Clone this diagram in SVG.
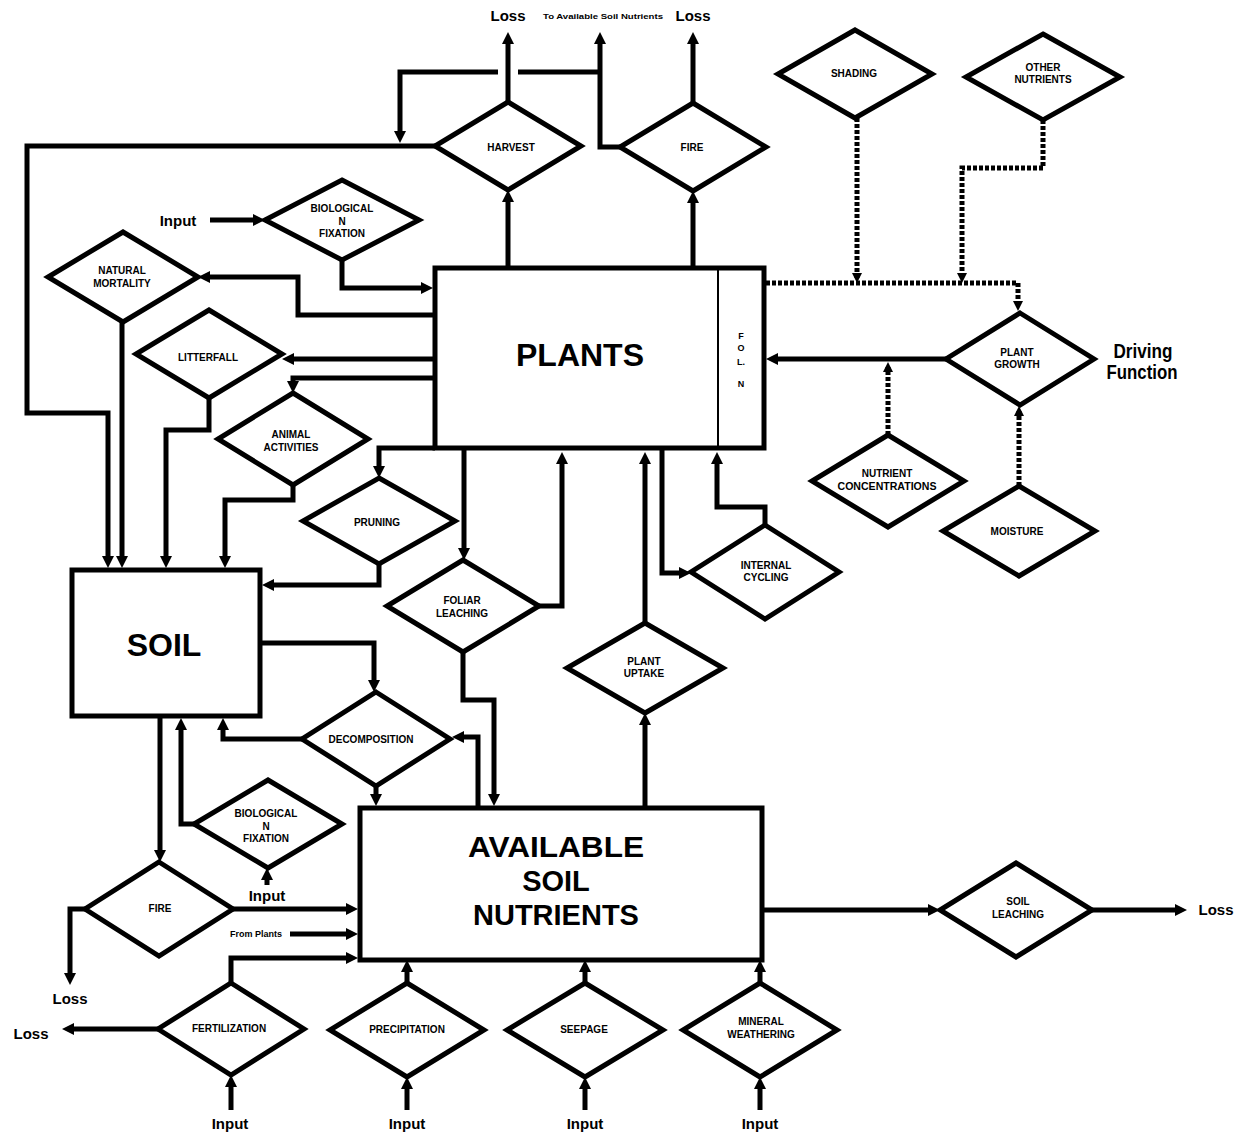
<svg xmlns="http://www.w3.org/2000/svg" width="1236" height="1135" viewBox="0 0 1236 1135">
<style>
.n polygon,.n rect{fill:#fff;stroke:#000;stroke-width:5;stroke-linejoin:miter}
.c path{fill:none;stroke:#000;stroke-width:5;stroke-linejoin:miter;marker-end:url(#a)}
.c path.na{marker-end:none}
.c path.d{stroke-dasharray:4 2;marker-end:url(#b)}
text{font-family:"Liberation Sans",Arial,sans-serif;font-weight:bold;fill:#000;text-anchor:middle;dominant-baseline:central}
.l{font-size:10px}
.big{font-size:32px}
.av{font-size:29px}
.io{font-size:15px}
</style>
<defs>
<marker id="a" markerUnits="userSpaceOnUse" viewBox="0 0 12 12" refX="6" refY="6" markerWidth="12" markerHeight="12" orient="auto"><path d="M0,0 L12,6 L0,12 z"/></marker>
<marker id="b" markerUnits="userSpaceOnUse" viewBox="0 0 10 10" refX="5" refY="5" markerWidth="10" markerHeight="10" orient="auto"><path d="M0,0 L10,5 L0,10 z"/></marker>
</defs>
<rect width="1236" height="1135" fill="#fff"/>

<g id="plants" class="n"><rect x="435" y="268" width="329" height="180"/><line x1="718" y1="268" x2="718" y2="448" stroke="#000" stroke-width="2"/><text class="big" x="580" y="355">PLANTS</text><text style="font-size:9px" x="741" y="336">F</text><text style="font-size:9px" x="741" y="348">O</text><text style="font-size:9px" x="741" y="362">L.</text><text style="font-size:9px" x="741" y="384">N</text></g>
<g id="soil" class="n"><rect x="72" y="570" width="188" height="146"/><text class="big" x="164" y="645">SOIL</text></g>
<g id="available" class="n"><rect x="360" y="808" width="402" height="152"/><text class="av" x="556" y="847" textLength="176" lengthAdjust="spacingAndGlyphs">AVAILABLE</text><text class="av" x="556" y="881">SOIL</text><text class="av" x="556" y="915">NUTRIENTS</text></g>

<g id="harvest" class="n"><polygon points="508,102 581,146 508,190 435,146"/><text class="l" x="511" y="147">HARVEST</text></g>
<g id="fire-top" class="n"><polygon points="693,103 766,147 693,191 620,147"/><text class="l" x="692" y="147">FIRE</text></g>
<g id="shading" class="n"><polygon points="855,30 932,74 855,118 778,74"/><text class="l" x="854" y="73">SHADING</text></g>
<g id="other-nutrients" class="n"><polygon points="1043,34 1120,77 1043,120 966,77"/><text class="l" x="1043" y="67">OTHER</text><text class="l" x="1043" y="79">NUTRIENTS</text></g>
<g id="bnf-top" class="n"><polygon points="342,180 419,220 342,260 265,220"/><text class="l" x="342" y="208">BIOLOGICAL</text><text class="l" x="342" y="221">N</text><text class="l" x="342" y="233">FIXATION</text></g>
<g id="natural-mortality" class="n"><polygon points="123,232 198,277 123,322 48,277"/><text class="l" x="122" y="270">NATURAL</text><text class="l" x="122" y="283">MORTALITY</text></g>
<g id="litterfall" class="n"><polygon points="209,310 282,354 209,398 136,354"/><text class="l" x="208" y="357">LITTERFALL</text></g>
<g id="animal-activities" class="n"><polygon points="293,393 368,439 293,485 218,439"/><text class="l" x="291" y="434">ANIMAL</text><text class="l" x="291" y="447">ACTIVITIES</text></g>
<g id="pruning" class="n"><polygon points="379,478 455,521 379,564 303,521"/><text class="l" x="377" y="522">PRUNING</text></g>
<g id="foliar-leaching" class="n"><polygon points="463,560 539,606 463,652 387,606"/><text class="l" x="462" y="600">FOLIAR</text><text class="l" x="462" y="613">LEACHING</text></g>
<g id="decomposition" class="n"><polygon points="376,692 450,739 376,786 302,739"/><text class="l" x="371" y="739">DECOMPOSITION</text></g>
<g id="bnf-bottom" class="n"><polygon points="268,780 342,824 268,868 194,824"/><text class="l" x="266" y="813">BIOLOGICAL</text><text class="l" x="266" y="826">N</text><text class="l" x="266" y="838">FIXATION</text></g>
<g id="fire-bottom" class="n"><polygon points="159,862 233,909 159,956 85,909"/><text class="l" x="160" y="908">FIRE</text></g>
<g id="fertilization" class="n"><polygon points="231,983 304,1029 231,1075 158,1029"/><text class="l" x="229" y="1028">FERTILIZATION</text></g>
<g id="precipitation" class="n"><polygon points="407,983 484,1030 407,1077 330,1030"/><text class="l" x="407" y="1029">PRECIPITATION</text></g>
<g id="seepage" class="n"><polygon points="585,983 663,1030 585,1077 507,1030"/><text class="l" x="584" y="1029">SEEPAGE</text></g>
<g id="mineral-weathering" class="n"><polygon points="760,983 837,1030 760,1077 683,1030"/><text class="l" x="761" y="1021">MINERAL</text><text class="l" x="761" y="1034">WEATHERING</text></g>
<g id="soil-leaching" class="n"><polygon points="1016,863 1092,910 1016,957 940,910"/><text class="l" x="1018" y="901">SOIL</text><text class="l" x="1018" y="914">LEACHING</text></g>
<g id="plant-uptake" class="n"><polygon points="645,623 723,668 645,713 567,668"/><text class="l" x="644" y="661">PLANT</text><text class="l" x="644" y="673">UPTAKE</text></g>
<g id="internal-cycling" class="n"><polygon points="765,525 839,572 765,619 691,572"/><text class="l" x="766" y="565">INTERNAL</text><text class="l" x="766" y="577">CYCLING</text></g>
<g id="plant-growth" class="n"><polygon points="1020,313 1094,359 1020,405 946,359"/><text class="l" x="1017" y="352">PLANT</text><text class="l" x="1017" y="364">GROWTH</text></g>
<g id="nutrient-concentrations" class="n"><polygon points="888,435 964,481 888,527 812,481"/><text class="l" x="887" y="473">NUTRIENT</text><text class="l" x="887" y="486" textLength="99" lengthAdjust="spacingAndGlyphs">CONCENTRATIONS</text></g>
<g id="moisture" class="n"><polygon points="1019,486 1095,531 1019,576 943,531"/><text class="l" x="1017" y="531">MOISTURE</text></g>

<g id="labels">
<text class="io" x="508" y="15">Loss</text>
<text class="io" x="693" y="15">Loss</text>
<text x="603" y="16" style="font-size:8px" textLength="120" lengthAdjust="spacingAndGlyphs">To Available Soil Nutrients</text>
<text class="io" x="178" y="220">Input</text>
<text class="io" x="267" y="895">Input</text>
<text x="256" y="934" style="font-size:9px">From Plants</text>
<text class="io" x="70" y="998">Loss</text>
<text class="io" x="31" y="1033">Loss</text>
<text class="io" x="1216" y="909">Loss</text>
<text class="io" x="230" y="1123">Input</text>
<text class="io" x="407" y="1123">Input</text>
<text class="io" x="585" y="1123">Input</text>
<text class="io" x="760" y="1123">Input</text>
<text x="1143" y="350" style="font-size:21px" textLength="59" lengthAdjust="spacingAndGlyphs">Driving</text>
<text x="1142" y="371" style="font-size:21px" textLength="71" lengthAdjust="spacingAndGlyphs">Function</text>
</g>

<g id="connectors" class="c">
<path d="M508,268 V196"/>
<path d="M508,102 V38"/>
<path d="M693,268 V197"/>
<path d="M693,103 V38"/>
<path d="M620,147 H600 V38"/>
<path class="na" d="M600,72 H518"/>
<path d="M498,72 H400 V137"/>
<path d="M435,146 H27 V413 H108 V562"/>
<path d="M122,322 V562"/>
<path d="M209,398 V430 H166 V562"/>
<path d="M293,485 V500 H225 V562"/>
<path d="M210,220 H259"/>
<path d="M342,260 V288 H427"/>
<path d="M435,315 H298 V277 H204"/>
<path d="M435,359 H288"/>
<path d="M435,378 H293 V387"/>
<path d="M435,448 H379 V472"/>
<path d="M379,564 V585 H268"/>
<path d="M260,643 H374 V686"/>
<path d="M302,739 H223 V724"/>
<path d="M160,716 V856"/>
<path d="M194,824 H181 V724"/>
<path d="M267,885 V874"/>
<path d="M233,909 H352"/>
<path d="M290,934 H352"/>
<path d="M231,983 V958 H352"/>
<path d="M85,909 H70 V979"/>
<path d="M158,1029 H68"/>
<path d="M231,1110 V1081"/>
<path d="M407,1110 V1083"/>
<path d="M407,983 V966"/>
<path d="M585,1110 V1083"/>
<path d="M585,983 V966"/>
<path d="M760,1110 V1083"/>
<path d="M760,983 V966"/>
<path d="M762,910 H934"/>
<path d="M1092,910 H1181"/>
<path d="M376,786 V800"/>
<path d="M478,808 V737 H458"/>
<path d="M463,652 V700 H494 V800"/>
<path d="M464,448 V554"/>
<path d="M539,606 H562 V458"/>
<path d="M645,808 V719"/>
<path d="M645,623 V458"/>
<path d="M662,448 V573 H685"/>
<path d="M765,525 V507 H717 V458"/>
<path d="M946,359 H772"/>
<path class="d" d="M766,283 H1018 V306"/>
<path class="d" d="M857,118 V278"/>
<path class="d" d="M1043,120 V168 H962 V278"/>
<path class="d" d="M888,435 V367"/>
<path class="d" d="M1019,486 V411"/>
</g>
</svg>
